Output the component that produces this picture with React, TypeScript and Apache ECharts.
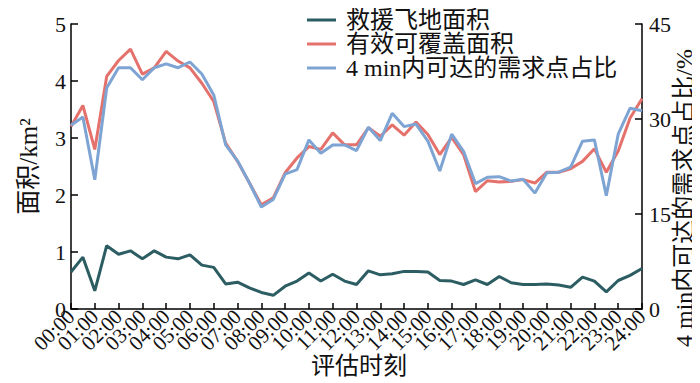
import React, { useEffect, useRef } from "react";
import * as echarts from "echarts";

const times = [
  "00:00","00:30","01:00","01:30","02:00","02:30","03:00","03:30","04:00","04:30",
  "05:00","05:30","06:00","06:30","07:00","07:30","08:00","08:30","09:00","09:30",
  "10:00","10:30","11:00","11:30","12:00","12:30","13:00","13:30","14:00","14:30",
  "15:00","15:30","16:00","16:30","17:00","17:30","18:00","18:30","19:00","19:30",
  "20:00","20:30","21:00","21:30","22:00","22:30","23:00","23:30","24:00",
];

const rescueArea = [
  0.65, 0.91, 0.32, 1.11, 0.96, 1.02, 0.88, 1.02, 0.91, 0.88, 0.95, 0.77, 0.73,
  0.44, 0.47, 0.37, 0.29, 0.24, 0.40, 0.49, 0.63, 0.49, 0.61, 0.49, 0.43,
  0.67, 0.60, 0.62, 0.66, 0.66, 0.65, 0.50, 0.49, 0.43, 0.51, 0.43,
  0.57, 0.46, 0.43, 0.43, 0.44, 0.42, 0.38, 0.56, 0.49, 0.30, 0.50, 0.59, 0.71,
];

const coverArea = [
  3.20, 3.57, 2.80, 4.08, 4.36, 4.56, 4.12, 4.23, 4.52, 4.35, 4.23, 3.96, 3.64,
  2.91, 2.59, 2.21, 1.83, 1.95, 2.39, 2.65, 2.85, 2.80, 3.09, 2.88, 2.88,
  3.18, 3.03, 3.23, 3.05, 3.28, 3.06, 2.71, 3.01, 2.71, 2.06, 2.25,
  2.23, 2.24, 2.27, 2.21, 2.40, 2.40, 2.46, 2.59, 2.81, 2.40, 2.77, 3.35, 3.69,
];

const reachRatio = [
  29.0, 30.3, 20.4, 34.9, 38.1, 38.1, 36.2, 38.1, 38.7, 38.1, 39.0, 37.1, 33.8,
  25.9, 23.4, 19.9, 16.1, 17.3, 21.3, 22.0, 26.7, 24.6, 25.9, 25.9, 25.0,
  28.7, 26.6, 30.9, 28.8, 29.2, 26.5, 21.8, 27.6, 24.9, 19.8, 20.8,
  20.9, 20.2, 20.5, 18.3, 21.5, 21.6, 22.4, 26.5, 26.7, 17.9, 27.6, 31.7, 31.3,
];

const seriesNames = ["救援飞地面积", "有效可覆盖面积", "4 min内可达的需求点占比"];
const colors = ["#2c5d62", "#e5716c", "#7ea4d3"];

const FONT = "'Liberation Serif', 'Noto Sans CJK SC', serif";

export default function App() {
  const ref = useRef<HTMLDivElement>(null);
  useEffect(() => {
    if (!ref.current) return;
    const chart = echarts.init(ref.current, null, { renderer: "svg" });
    const axisLine = { show: true, lineStyle: { color: "#000", width: 1.5 } };
    const xLabelBase = {
      rotate: 45,
      margin: 4,
      hideOverlap: false,
      fontFamily: FONT,
      fontSize: 21,
      color: "#111",
    };
    chart.setOption({
      animation: false,
      textStyle: { fontFamily: FONT },
      color: colors,
      grid: { left: 60, right: 66, top: 16, bottom: 82, containLabel: false },
      legend: {
        orient: "vertical",
        left: 299,
        top: 0,
        padding: 0,
        itemGap: 0,
        itemWidth: 29,
        itemHeight: 3,
        icon: "rect",
        data: seriesNames,
        textStyle: { fontFamily: FONT, fontSize: 24, color: "#111", padding: [0, 0, 0, 5] },
      },
      xAxis: [
        {
          type: "category",
          data: times,
          boundaryGap: false,
          position: "bottom",
          axisLine,
          axisTick: {
            inside: true,
            length: 6,
            lineStyle: { color: "#000", width: 1.5 },
            interval: (i: number) => i % 2 === 0,
          },
          axisLabel: {
            ...xLabelBase,
            interval: (i: number) => i % 4 === 0,
            showMinLabel: true,
            showMaxLabel: true,
          },
          splitLine: { show: false },
        },
        {
          type: "category",
          data: times,
          boundaryGap: false,
          position: "bottom",
          offset: 0,
          axisLine: { show: false },
          axisTick: { show: false },
          axisLabel: {
            ...xLabelBase,
            interval: (i: number) => i % 4 === 2,
          },
          splitLine: { show: false },
        },
      ],
      yAxis: [
        {
          type: "value",
          min: 0,
          max: 5,
          interval: 1,
          name: "面积/km²",
          nameLocation: "middle",
          nameRotate: 90,
          nameGap: 30,
          nameTextStyle: { fontFamily: FONT, fontSize: 25, color: "#111" },
          axisLine,
          axisTick: { show: true, inside: true, length: 7, lineStyle: { color: "#000", width: 1.5 } },
          axisLabel: { margin: 5, fontFamily: FONT, fontSize: 22, color: "#111" },
          splitLine: { show: false },
        },
        {
          type: "value",
          position: "right",
          min: 0,
          max: 45,
          interval: 15,
          axisLine,
          axisTick: { show: true, inside: true, length: 7, lineStyle: { color: "#000", width: 1.5 } },
          axisLabel: { margin: 7, fontFamily: FONT, fontSize: 22, color: "#111" },
          splitLine: { show: false },
        },
      ],
      graphic: [
        {
          type: "text",
          x: 351,
          y: 358,
          style: {
            text: "评估时刻",
            fontFamily: FONT,
            fontSize: 24,
            fill: "#111",
            align: "center",
            verticalAlign: "middle",
          },
        },
        {
          type: "text",
          x: 676,
          y: 190,
          rotation: Math.PI / 2,
          style: {
            text: "4 min内可达的需求点占比/%",
            fontFamily: FONT,
            fontSize: 24,
            fill: "#111",
            align: "center",
            verticalAlign: "middle",
          },
        },
      ],
      series: [
        {
          name: seriesNames[0],
          type: "line",
          xAxisIndex: 0,
          yAxisIndex: 0,
          data: rescueArea,
          symbol: "none",
          lineStyle: { width: 3, color: colors[0] },
          itemStyle: { color: colors[0] },
        },
        {
          name: seriesNames[1],
          type: "line",
          xAxisIndex: 0,
          yAxisIndex: 0,
          data: coverArea,
          symbol: "none",
          lineStyle: { width: 3, color: colors[1] },
          itemStyle: { color: colors[1] },
        },
        {
          name: seriesNames[2],
          type: "line",
          xAxisIndex: 0,
          yAxisIndex: 1,
          data: reachRatio,
          symbol: "none",
          lineStyle: { width: 3, color: colors[2] },
          itemStyle: { color: colors[2] },
        },
      ],
    });
    return () => chart.dispose();
  }, []);
  return <div ref={ref} style={{ width: 700, height: 383 }} />;
}
